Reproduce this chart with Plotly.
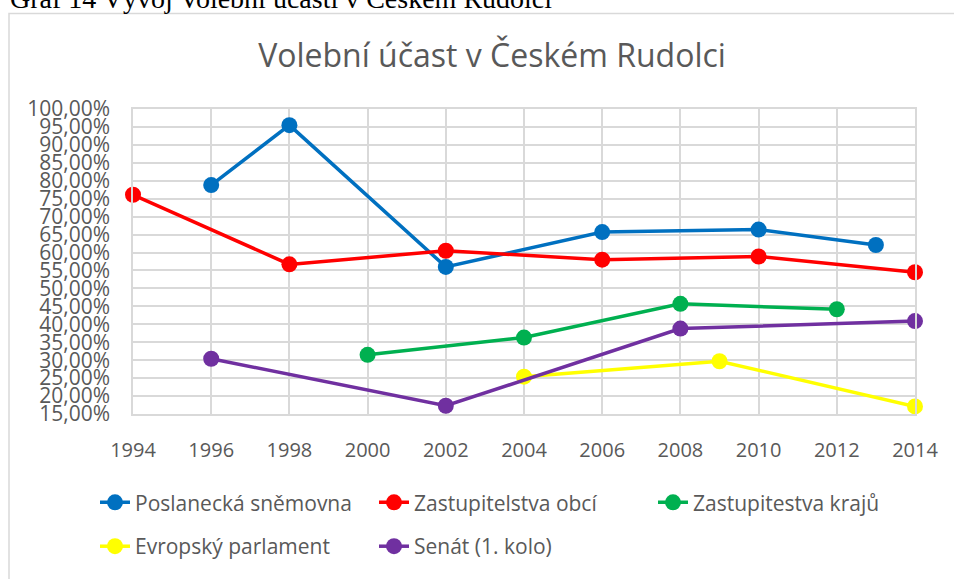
import plotly.graph_objects as go

# ---- data ----
years_posl = [1996, 1998, 2002, 2006, 2010, 2013]
vals_posl = [0.788, 0.955, 0.560, 0.657, 0.664, 0.621]

years_obci = [1994, 1998, 2002, 2006, 2010, 2014]
vals_obci = [0.761, 0.567, 0.605, 0.580, 0.589, 0.545]

years_kraju = [2000, 2004, 2008, 2012]
vals_kraju = [0.315, 0.363, 0.457, 0.442]

years_ep = [2004, 2009, 2014]
vals_ep = [0.254, 0.297, 0.171]

years_senat = [1996, 2002, 2008, 2014]
vals_senat = [0.304, 0.173, 0.388, 0.409]

series_names = ["Poslanecká sněmovna", "Zastupitelstva obcí", "Zastupitestva krajů",
                "Evropský parlament", "Senát (1. kolo)"]
series_colors = ["#0070C0", "#FF0000", "#00B050", "#FFFF00", "#7030A0"]
series_x = [years_posl, years_obci, years_kraju, years_ep, years_senat]
series_y = [vals_posl, vals_obci, vals_kraju, vals_ep, vals_senat]
legend_ids = ["legend", "legend", "legend", "legend2", "legend2"]

x_ticks = [1994, 1996, 1998, 2000, 2002, 2004, 2006, 2008, 2010, 2012, 2014]

TEXT = "#595959"
GRID = "#D9D9D9"
FONT = "Open Sans"

fig = go.Figure()
for name, col, xs, ys, lg in zip(series_names, series_colors, series_x, series_y, legend_ids):
    fig.add_trace(go.Scatter(
        x=xs, y=ys, name=name, mode="lines+markers",
        line=dict(color=col, width=3.5),
        marker=dict(color=col, size=16),
        cliponaxis=False, legend=lg,
    ))

W, H = 954, 579
L, R, T, B = 133, 39, 109, 157
pw = W - L - R
ph = H - T - B


def px(xp):
    return (xp - L) / pw


def py(yp):
    return (H - B - yp) / ph


fig.update_layout(
    width=W, height=H,
    margin=dict(l=L, r=R, t=T, b=B),
    paper_bgcolor="white", plot_bgcolor="white",
    separators=", ",
    font=dict(family=FONT, color=TEXT, size=20),
    title=dict(text="Volební účast v Českém Rudolci", x=492 / W, xanchor="center",
               xref="container", y=1 - 56 / H, yanchor="middle", yref="container",
               font=dict(family=FONT, size=32, color=TEXT)),
    xaxis=dict(range=[1994, 2014], tickvals=x_ticks, showgrid=True, gridcolor=GRID,
               gridwidth=1.5, showline=True, linecolor=GRID, linewidth=1.5, mirror=True,
               zeroline=False, tickfont=dict(size=20, color=TEXT, family=FONT),
               ticklabelstandoff=17),
    yaxis=dict(range=[0.15, 1.0], dtick=0.05, tick0=0.15, tickformat=".2%",
               showgrid=True, gridcolor=GRID, gridwidth=1.5, showline=True,
               linecolor=GRID, linewidth=1.5, mirror=True, zeroline=False,
               tickfont=dict(size=21, color=TEXT, family=FONT), ticklabelstandoff=17),
    showlegend=True,
    legend=dict(orientation="h", x=px(95), xanchor="left", y=py(492), yanchor="top",
                entrywidth=234, entrywidthmode="pixels", bgcolor="rgba(0,0,0,0)",
                font=dict(size=21, color=TEXT, family=FONT), traceorder="normal"),
    legend2=dict(orientation="h", x=px(95), xanchor="left", y=py(537), yanchor="top",
                 entrywidth=234, entrywidthmode="pixels", bgcolor="rgba(0,0,0,0)",
                 font=dict(size=21, color=TEXT, family=FONT), traceorder="normal"),
)

# outer chart border (extends beyond the visible window)
fig.add_shape(type="rect", xref="paper", yref="paper",
              x0=px(9), x1=px(975), y0=py(600), y1=py(11),
              line=dict(color=GRID, width=1.5), fillcolor="rgba(0,0,0,0)", layer="below")

# caption above the chart (partially cut by the top of the page)
fig.add_annotation(text="Graf 14 Vývoj Volební účasti v Českém Rudolci",
                   xref="paper", yref="paper", x=px(8), y=py(14),
                   xanchor="left", yanchor="bottom", showarrow=False,
                   font=dict(family="Liberation Serif", size=28, color="black"))

fig.write_html("out.html",
               config={"displayModeBar": False},
               post_script="document.body.style.margin='0';document.body.style.overflow='hidden';")
